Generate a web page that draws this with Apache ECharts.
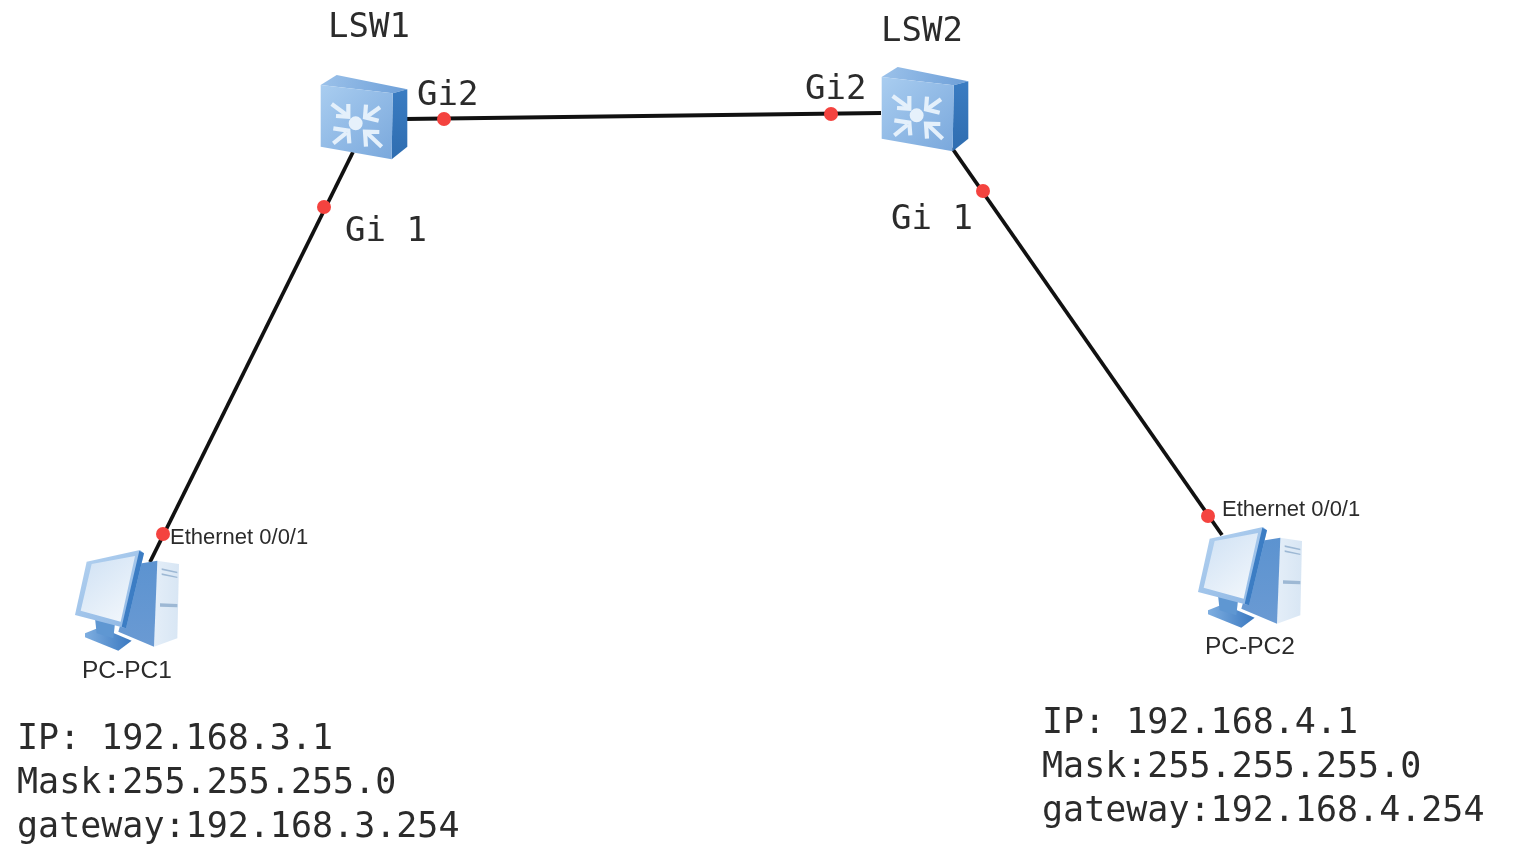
<!DOCTYPE html>
<html><head><meta charset="utf-8">
<style>html,body{margin:0;padding:0;background:#fff}#c{width:1516px;height:845px;filter:blur(0.5px)}</style>
<script src="https://cdn.jsdelivr.net/npm/echarts@6/dist/echarts.min.js"></script>
</head><body><div id="c"></div>
<script>
// ---- data ----
const switchNodes = [[363,118],[924,110]];
const pcNodes = [[127,600],[1250,577]];
const links = [
  [[150,562],[353,152]],
  [[405,119],[881,113]],
  [[952,148],[1222,535]]
];
const ports = [[324,207],[444,119],[831,114],[983,191],[163,534],[1208,516]];
const monoLabels = [
  ['LSW1',328,28],['LSW2',881,32],['Gi2',417,96],['Gi2',805,90],['Gi 1',345,232],['Gi 1',891,220]
];
const addressLabels = [
  ['IP: 192.168.3.1',17,740],['Mask:255.255.255.0',17,784],['gateway:192.168.3.254',17,828],
  ['IP: 192.168.4.1',1042,724],['Mask:255.255.255.0',1042,768],['gateway:192.168.4.254',1042,812]
];
const portNames = [['Ethernet 0/0/1',170,538],['Ethernet 0/0/1',1222,510]];
const pcNames = [['PC-PC1',82,671],['PC-PC2',1205,647]];

// ---- icon geometry (local, in 3x px around an anchor) ----
const G = echarts.graphic;
const lin = (x0,y0,x2,y2,a,b)=>new G.LinearGradient(x0,y0,x2,y2,[{offset:0,color:a},{offset:1,color:b}]);
const scalePts = (pts,ax,ay)=>pts.map(p=>[(p[0]-ax)/3,(p[1]-ay)/3]);
const poly = (pts,ax,ay,fill)=>({type:'polygon',shape:{points:scalePts(pts,ax,ay)},style:{fill}});
const pline = (pts,ax,ay)=>({type:'polyline',shape:{points:scalePts(pts,ax,ay)},style:{fill:'none',stroke:'#e4f0fb',lineWidth:4.2,lineCap:'butt',lineJoin:'miter'}});

function switchIcon(){
  const ax=189, ay=354;
  return [
    poly([[62,255],[110,225],[322,268],[278,280]],ax,ay,lin(0,0,1,1,'#9cc2ea','#6d9fd8')),
    poly([[278,280],[322,268],[322,440],[275,478]],ax,ay,lin(0,0,0,1,'#3a7cc2','#2f6db0')),
    poly([[62,255],[278,280],[275,478],[62,440]],ax,ay,lin(0,0,1,1,'#a9cdf0','#7aa8dc')),
    pline([[95,312],[140,345]],ax,ay),pline([[108,348],[145,350],[145,312]],ax,ay),
    pline([[240,322],[200,350]],ax,ay),pline([[236,362],[195,352],[198,314]],ax,ay),
    pline([[100,430],[140,398]],ax,ay),pline([[100,385],[145,392],[148,430]],ax,ay),
    pline([[245,440],[202,400]],ax,ay),pline([[238,396],[195,395],[198,440]],ax,ay),
    {type:'circle',shape:{cx:(167-ax)/3,cy:(370-ay)/3,r:7},style:{fill:'#e6f1fb'}}
  ];
}
function pcIcon(){
  const ax=231, ay=240;
  return [
    poly([[105,340],[150,322],[245,362],[205,392],[105,352]],ax,ay,lin(0,0,1,0,'#7eaee0','#3a78c0')),
    poly([[135,295],[195,310],[190,355],[140,340]],ax,ay,'#5f97d2'),
    poly([[320,122],[387,132],[382,355],[312,380]],ax,ay,lin(0,0,1,0,'#e4eef8','#d8e6f4')),
    poly([[335,145],[382,155],[382,160],[335,150]],ax,ay,'#9db8d4'),
    poly([[335,160],[382,170],[382,174],[335,165]],ax,ay,'#9db8d4'),
    poly([[330,250],[382,252],[382,262],[330,260]],ax,ay,'#9db8d4'),
    poly([[262,132],[322,122],[312,380],[205,335]],ax,ay,lin(0,0,0,1,'#5c93d0','#6a9ad3')),
    poly([[110,125],[270,90],[282,100],[228,325],[75,285]],ax,ay,lin(0,0,1,1,'#b4d2f0','#8db6e4')),
    poly([[268,92],[282,100],[228,325],[215,320]],ax,ay,'#3c7dc4'),
    poly([[125,132],[255,108],[212,305],[92,272]],ax,ay,lin(0,0,1,1,'#cfe1f4','#f4f8fc'))
  ];
}
const iconSeries = (data,build)=>({
  type:'custom',coordinateSystem:'cartesian2d',silent:true,z:3,
  data,
  renderItem:(params,api)=>{
    const p=api.coord([api.value(0),api.value(1)]);
    return {type:'group',x:p[0],y:p[1],children:build()};
  }
});
const textSeries = (rows,font,size)=>({
  type:'scatter',symbolSize:0,silent:true,z:5,
  itemStyle:{opacity:1},
  data:rows.map(r=>({name:r[0],value:[r[1],r[2]]})),
  label:{show:true,position:'right',distance:0,formatter:'{b}',fontFamily:font,fontSize:size,color:'#2b2b2b',opacity:1}
});
const MONO='"DejaVu Sans Mono"';
const SANS='"Liberation Sans"';

const option={
  animation:false,
  backgroundColor:'#ffffff',
  grid:{left:0,right:0,top:0,bottom:0},
  xAxis:{type:'value',min:0,max:1516,show:false},
  yAxis:{type:'value',min:0,max:845,inverse:true,show:false},
  series:[
    ...links.map(l=>({type:'line',data:l,symbol:'none',silent:true,z:1,lineStyle:{color:'#111',width:3.8}})),
    iconSeries(switchNodes,switchIcon),
    iconSeries(pcNodes,pcIcon),
    {type:'scatter',data:ports,symbolSize:14,silent:true,z:4,itemStyle:{color:'#f4433f',opacity:1}},
    textSeries(monoLabels,MONO,34),
    textSeries(addressLabels,MONO,35),
    textSeries(portNames,SANS,22),
    textSeries(pcNames,SANS,24.5)
  ]
};
echarts.init(document.getElementById('c'),null,{renderer:'canvas'}).setOption(option);
</script></body></html>
